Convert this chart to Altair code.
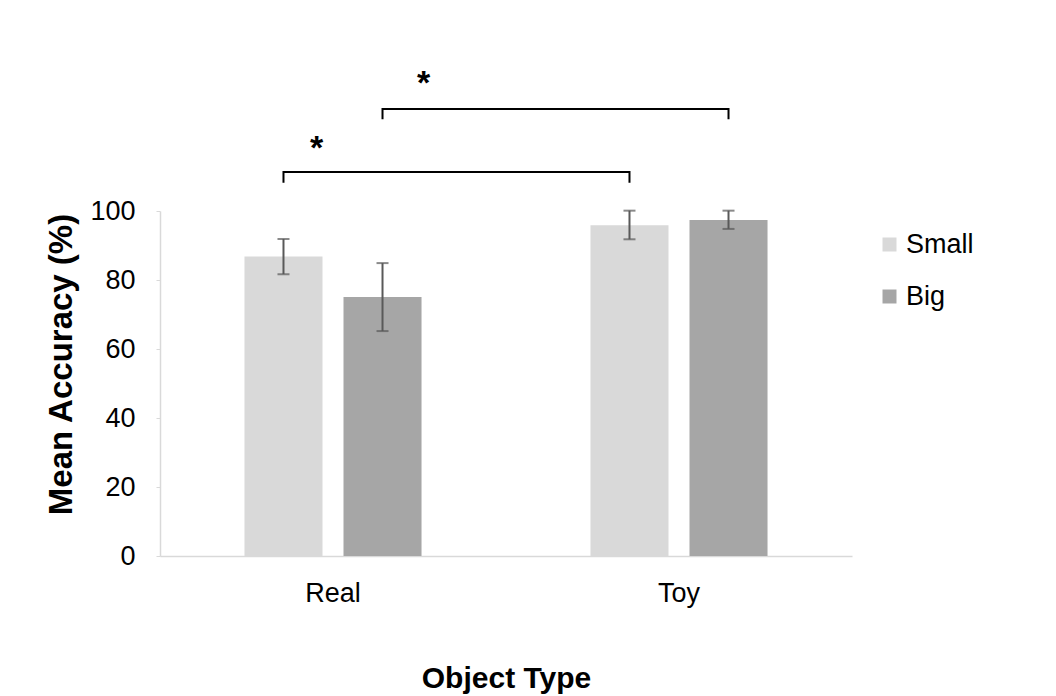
import altair as alt
import pandas as pd

# ---- data ----
object_types = ["Real", "Real", "Toy", "Toy"]
sizes = ["Small", "Big", "Small", "Big"]
mean_acc = [86.8, 75.1, 95.9, 97.4]
err_low = [81.7, 65.2, 91.8, 94.8]
err_high = [91.9, 84.9, 100.1, 100.1]

# significance brackets (each joins one size across the two object types)
bracket_id = ["b1"] * 4 + ["b2"] * 4
bracket_size = ["Small"] * 4 + ["Big"] * 4
bracket_type = ["Real", "Real", "Toy", "Toy"] * 2
bracket_y = [108.2, 111.3, 111.3, 108.2, 126.6, 129.6, 129.6, 126.6]
bracket_order = [0, 1, 2, 3] * 2

star_type = ["Real", "Real"]
star_size = ["Small", "Big"]
star_y = [118.0, 136.8]
star_text = ["*", "*"]

size_domain = ["Small", "Big"]
size_colors = ["#d9d9d9", "#a6a6a6"]

bars_df = pd.DataFrame({"type": object_types, "size": sizes, "mean": mean_acc,
                        "lo": err_low, "hi": err_high})
br_df = pd.DataFrame({"id": bracket_id, "size": bracket_size, "type": bracket_type,
                      "v": bracket_y, "ord": bracket_order})
star_df = pd.DataFrame({"type": star_type, "size": star_size, "v": star_y, "t": star_text})

FONT = "Liberation Sans"

x_axis = alt.Axis(title="Object Type", labelAngle=0, ticks=False, domainColor="#d9d9d9",
                  domainWidth=1.5, labelFontSize=27, labelColor="#000000", labelPadding=24,
                  titleFontSize=30, titleFontWeight="bold", titleColor="#000000",
                  titlePadding=57, labelFont=FONT, titleFont=FONT)
x_scale = alt.Scale(domain=["Real", "Toy"], paddingInner=0, paddingOuter=0)
off_scale = alt.Scale(domain=size_domain, paddingInner=0.212, paddingOuter=0.853)

y_scale = alt.Scale(domain=[0, 100], nice=False)
y_axis = alt.Axis(title="Mean Accuracy (%)", values=[0, 20, 40, 60, 80, 100], grid=False,
                  tickSize=4, tickColor="#d9d9d9", domainColor="#d9d9d9", domainWidth=1.5,
                  labelFontSize=27, labelColor="#000000", labelPadding=21,
                  titleFontSize=33, titleFontWeight="bold", titleColor="#000000",
                  titleX=-82, titleY=153, titleAlign="center", titleBaseline="bottom",
                  titleAngle=270,
                  labelFont=FONT, titleFont=FONT)


def X():
    return alt.X("type:N", scale=x_scale, axis=x_axis)


def XO():
    return alt.XOffset("size:N", scale=off_scale)


def Y(field):
    return alt.Y(field, scale=y_scale, axis=y_axis)


bars = alt.Chart(bars_df).mark_bar().encode(
    x=X(), xOffset=XO(), y=Y("mean:Q"),
    color=alt.Color("size:N", scale=alt.Scale(domain=size_domain, range=size_colors),
                    legend=alt.Legend(title=None, orient="none", legendX=716, legendY=20,
                                      symbolType="square", symbolSize=196,
                                      symbolStrokeWidth=0, labelFontSize=27,
                                      labelFont=FONT, labelColor="#000000",
                                      rowPadding=24, labelOffset=3)),
)

err_rule = alt.Chart(bars_df).mark_rule(color="#595959", strokeWidth=2).encode(
    x=X(), xOffset=XO(), y=Y("lo:Q"), y2="hi:Q")
cap_lo = alt.Chart(bars_df).mark_tick(color="#595959", thickness=2, size=12,
                                       orient="horizontal").encode(
    x=X(), xOffset=XO(), y=Y("lo:Q"))
cap_hi = alt.Chart(bars_df).mark_tick(color="#595959", thickness=2, size=12,
                                       orient="horizontal").encode(
    x=X(), xOffset=XO(), y=Y("hi:Q"))

brackets = alt.Chart(br_df).mark_line(color="#000000", strokeWidth=2, clip=False).encode(
    x=X(), xOffset=XO(), y=Y("v:Q"), detail="id:N", order="ord:Q")

star_small = alt.Chart(star_df).transform_filter(alt.datum.size == "Small").mark_text(
    fontSize=34, font=FONT, fontWeight="bold", color="#000000", dx=33,
    baseline="middle").encode(x=X(), xOffset=XO(), y=Y("v:Q"), text="t:N")
star_big = alt.Chart(star_df).transform_filter(alt.datum.size == "Big").mark_text(
    fontSize=34, font=FONT, fontWeight="bold", color="#000000", dx=41,
    baseline="middle").encode(x=X(), xOffset=XO(), y=Y("v:Q"), text="t:N")

chart = alt.layer(bars, err_rule, cap_lo, cap_hi, brackets, star_small, star_big).properties(
    width=692, height=345,
    background="#ffffff",
    autosize=alt.AutoSizeParams(type="none"),
    padding={"left": 160, "top": 211, "right": 204, "bottom": 140},
).configure_view(stroke=None)

chart.save("out.html", embed_options={"renderer": "svg", "actions": False})
